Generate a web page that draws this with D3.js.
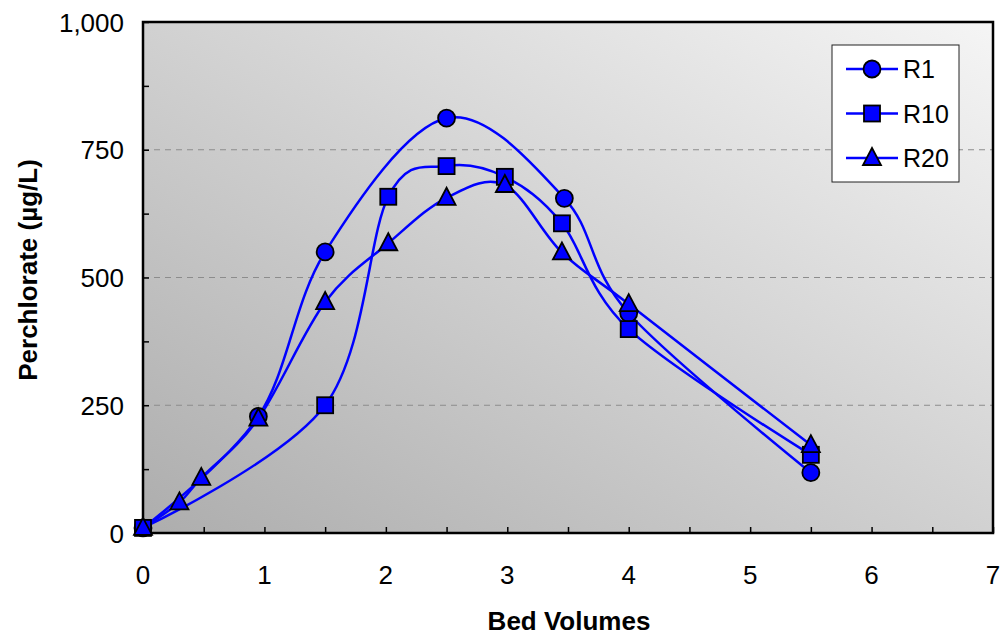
<!DOCTYPE html>
<html>
<head>
<meta charset="utf-8">
<script src="https://cdn.jsdelivr.net/npm/d3@7"></script>
<style>
  html, body { margin: 0; padding: 0; background: #fff; }
  svg { display: block; }
  text { font-family: "Liberation Sans", Arial, sans-serif; fill: #000; }
</style>
</head>
<body>
<svg id="chart" width="1003" height="636"></svg>
<script>
// ---- data ----
const seriesNames = ["R1", "R10", "R20"];
const r1X  = [0, 0.95, 1.5, 2.5, 3.47, 4.0, 5.5];
const r1Y  = [10, 228, 550, 812, 655, 430, 118];
const r10X = [0, 1.5, 2.02, 2.5, 2.98, 3.45, 4.0, 5.5];
const r10Y = [10, 250, 658, 718, 697, 606, 399, 153];
const r20X = [0, 0.3, 0.48, 0.95, 1.5, 2.02, 2.5, 2.98, 3.45, 4.0, 5.5];
const r20Y = [10, 60, 108, 224, 452, 567, 656, 681, 549, 448, 172];
const xTicks = [0, 1, 2, 3, 4, 5, 6, 7];
const yTicks = [0, 250, 500, 750, 1000];
const gridValues = [250, 500, 750];

const series = [
  { name: seriesNames[0], xs: r1X, ys: r1Y, shape: "circle" },
  { name: seriesNames[1], xs: r10X, ys: r10Y, shape: "square" },
  { name: seriesNames[2], xs: r20X, ys: r20Y, shape: "triangle" }
];

// ---- layout ----
const svg = d3.select("#chart");
const L = 143, R = 993, T = 22, B = 533;
const x = d3.scaleLinear().domain([0, 7]).range([L, R]);
const y = d3.scaleLinear().domain([0, 1000]).range([B, T]);

const defs = svg.append("defs");
const grad = defs.append("linearGradient").attr("id", "bg")
  .attr("x1", 0).attr("y1", 1).attr("x2", 1).attr("y2", 0);
grad.append("stop").attr("offset", "0%").attr("stop-color", "#adadad");
grad.append("stop").attr("offset", "100%").attr("stop-color", "#f5f5f5");

svg.append("rect").attr("x", L).attr("y", T).attr("width", R - L).attr("height", B - T)
  .attr("fill", "url(#bg)");

// gridlines
svg.append("g").selectAll("line").data(gridValues).join("line")
  .attr("x1", L).attr("x2", R).attr("y1", d => y(d)).attr("y2", d => y(d))
  .attr("stroke", "#8c8c8c").attr("stroke-width", 1).attr("stroke-dasharray", "6,5");

// axes (inward ticks)
const xAxis = d3.axisBottom(x).tickValues(d3.range(0, 7.01, 0.5)).tickSize(-6).tickFormat("");
svg.append("g").attr("transform", `translate(0,${B})`).call(xAxis)
  .call(g => g.select(".domain").remove())
  .call(g => g.selectAll(".tick line").attr("stroke", "#000").attr("stroke-width", 1.5));
const yAxis = d3.axisLeft(y).tickValues(d3.range(0, 1001, 125)).tickSize(-6).tickFormat("");
svg.append("g").attr("transform", `translate(${L},0)`).call(yAxis)
  .call(g => g.select(".domain").remove())
  .call(g => g.selectAll(".tick line").attr("stroke", "#000").attr("stroke-width", 1.5));

// tick labels
svg.append("g").selectAll("text").data(xTicks).join("text")
  .attr("x", d => x(d)).attr("y", 584).attr("text-anchor", "middle")
  .style("font-size", "26px").text(d => d);
svg.append("g").selectAll("text").data(yTicks).join("text")
  .attr("x", 124).attr("y", d => y(d) + 9.5).attr("text-anchor", "end")
  .style("font-size", "26px").text(d => d3.format(",")(d));

// frame
svg.append("rect").attr("x", L).attr("y", T).attr("width", R - L).attr("height", B - T)
  .attr("fill", "none").attr("stroke", "#000").attr("stroke-width", 2.5);

// axis titles
svg.append("text").attr("x", 569).attr("y", 630).attr("text-anchor", "middle")
  .style("font-size", "26px").style("font-weight", "bold").text("Bed Volumes");
svg.append("text").attr("transform", "translate(37,270) rotate(-90)").attr("text-anchor", "middle")
  .style("font-size", "26px").style("font-weight", "bold").text("Perchlorate (µg/L)");

// marker helper
function drawMarker(sel, shape, cx, cy) {
  if (shape === "circle") {
    sel.append("circle").attr("cx", cx).attr("cy", cy).attr("r", 8.5)
      .attr("fill", "#0000ff").attr("stroke", "#000").attr("stroke-width", 1.8);
  } else if (shape === "square") {
    sel.append("rect").attr("x", cx - 8).attr("y", cy - 8).attr("width", 16).attr("height", 16)
      .attr("fill", "#0000ff").attr("stroke", "#000").attr("stroke-width", 1.8);
  } else {
    const p = [[cx, cy - 10], [cx + 9, cy + 7], [cx - 9, cy + 7]];
    sel.append("path").attr("d", "M" + p.map(q => q.join(",")).join("L") + "Z")
      .attr("fill", "#0000ff").attr("stroke", "#000").attr("stroke-width", 1.8)
      .attr("stroke-linejoin", "miter");
  }
}

const line = d3.line().x(d => x(d[0])).y(d => y(d[1])).curve(d3.curveCardinal.tension(0));

const plot = svg.append("g");
series.forEach(s => {
  const pts = s.xs.map((v, i) => [v, s.ys[i]]);
  plot.append("path").attr("d", line(pts)).attr("fill", "none")
    .attr("stroke", "#0000ff").attr("stroke-width", 2.5);
});
series.forEach(s => {
  const g = plot.append("g");
  s.xs.forEach((v, i) => drawMarker(g, s.shape, x(v), y(s.ys[i])));
});

// legend
const lg = svg.append("g");
lg.append("rect").attr("x", 832).attr("y", 45).attr("width", 127).attr("height", 137)
  .attr("fill", "#fff").attr("stroke", "#222").attr("stroke-width", 1);
series.forEach((s, i) => {
  const ly = 69 + i * 44.5;
  lg.append("line").attr("x1", 846).attr("x2", 898).attr("y1", ly).attr("y2", ly)
    .attr("stroke", "#0000ff").attr("stroke-width", 2.5);
  drawMarker(lg, s.shape, 872, ly);
  lg.append("text").attr("x", 903).attr("y", ly + 9).style("font-size", "25px").text(s.name);
});
</script>
</body>
</html>
